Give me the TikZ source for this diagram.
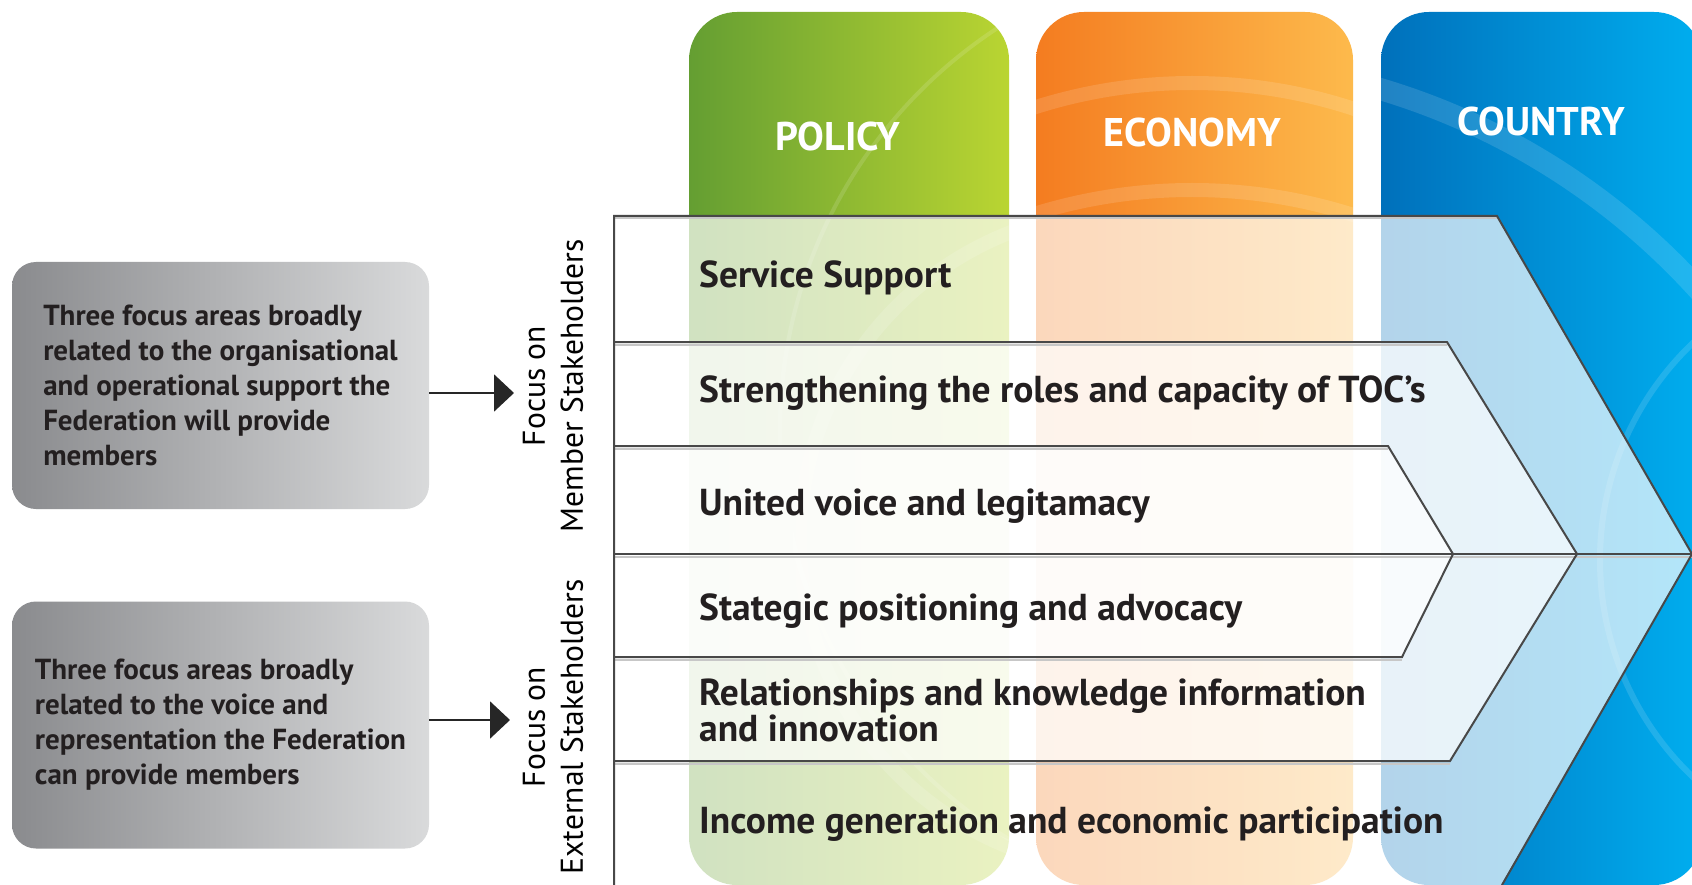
\documentclass[tikz,border=0pt]{standalone}
\usepackage{fontspec}
\setmainfont{PT Sans}
\usetikzlibrary{arrows.meta}

\definecolor{policyL}{RGB}{100,158,50}
\definecolor{policyR}{RGB}{186,213,50}
\definecolor{economyL}{RGB}{244,124,32}
\definecolor{economyR}{RGB}{253,186,76}
\definecolor{countryL}{RGB}{0,112,187}
\definecolor{countryR}{RGB}{0,174,239}
\definecolor{boxL}{RGB}{138,139,142}
\definecolor{boxR}{RGB}{217,218,219}
\definecolor{ink}{RGB}{35,31,32}
\definecolor{rulegray}{RGB}{72,72,72}

\begin{document}
\begin{tikzpicture}[
    x=1pt, y=-1pt,
    colbox/.style={rounded corners=48pt},
    glow/.style={draw=white, draw opacity=0.13, line width=14pt},
    coltitle/.style={text=white, inner sep=0pt, font=\bfseries\fontsize{40}{48}\selectfont},
    chevron/.style={fill=white, fill opacity=0.7},
    rule/.style={draw=rulegray, line width=2pt, line join=miter},
    ruleshadow/.style={draw=black!22, line width=2pt, yshift=-2.5pt},
    rowtext/.style={anchor=base west, inner sep=0pt, text=ink, align=left, font=\bfseries\fontsize{37.5}{34}\selectfont},
    infobox/.style={rectangle, rounded corners=24pt, left color=boxL, right color=boxR, minimum width=417pt, minimum height=247pt, align=left, text=ink, font=\bfseries\fontsize{29}{35}\selectfont},
    focus/.style={rotate=90, align=center, text=black, font=\fontsize{31.5}{38}\selectfont},
    pointer/.style={draw=black!85, line width=2pt, -{Triangle[length=20pt, width=37pt]}}
]
    \clip (0,0) rectangle (1692,885);
    \fill[white] (0,0) rectangle (1692,885);

    \path[colbox, left color=policyL, right color=policyR] (689,12) rectangle (1009,885);
    \path[colbox, left color=economyL, right color=economyR] (1036,12) rectangle (1353,885);
    \path[colbox, left color=countryL, right color=countryR] (1381,12) rectangle (1702,885);

    \begin{scope}
        \clip[colbox] (689,12) rectangle (1009,885);
        \draw[glow] (1130,540) circle (330);
        \draw[glow, line width=4pt] (1260,430) circle (480);
    \end{scope}
    \begin{scope}
        \clip[colbox] (1036,12) rectangle (1353,885);
        \draw[glow] (1192,600) circle (517);
        \draw[glow] (1192,720) circle (530);
    \end{scope}
    \begin{scope}
        \clip[colbox] (1381,12) rectangle (1702,885);
        \draw[glow, line width=22pt] (1180,760) circle (700);
        \draw[glow, line width=6pt] (1900,560) circle (300);
    \end{scope}

    \node[coltitle] (policy) at (838,137) {POLICY};
    \node[coltitle] (economy) at (1192,133) {ECONOMY};
    \node[coltitle] (country) at (1541,122) {COUNTRY};

    \path[chevron] (614,216) -- (1497,216) -- (1692,554) -- (1497,892) -- (614,892) -- cycle;
    \path[chevron] (614,342) -- (1447,342) -- (1577,554) -- (1450,761) -- (614,761) -- cycle;
    \path[chevron] (614,446) -- (1388,446) -- (1453,554) -- (1402,657) -- (614,657) -- cycle;

    \draw[ruleshadow] (614,216) -- (1497,216);
    \draw[ruleshadow] (614,342) -- (1447,342);
    \draw[ruleshadow] (614,446) -- (1388,446);
    \draw[ruleshadow] (614,554) -- (1692,554);
    \draw[ruleshadow] (614,657) -- (1402,657);
    \draw[ruleshadow] (614,761) -- (1450,761);

    \draw[rule] (614,885) -- (614,216) -- (1497,216) -- (1692,554) -- (1502,885);
    \draw[rule] (614,342) -- (1447,342) -- (1577,554) -- (1450,761) -- (614,761);
    \draw[rule] (614,446) -- (1388,446) -- (1453,554) -- (1402,657) -- (614,657);
    \draw[rule] (614,554) -- (1692,554);

    \node[rowtext] (service) at (699,288) {Service Support};
    \node[rowtext] (toc) at (699,402) {Strengthening the roles and capacity of TOC’s};
    \node[rowtext] (voice) at (699,515) {United voice and legitamacy};
    \node[rowtext] (advocacy) at (699,620) {Stategic positioning and advocacy};
    \node[rowtext] (knowledge) at (699,741) {Relationships and knowledge information\\and innovation};
    \node[rowtext] (income) at (699,833) {Income generation and economic participation};

    \node[infobox] (support) at (220.5,385.5) {Three focus areas broadly\\related to the organisational\\and operational support the\\Federation will provide\\members};
    \node[infobox] (represent) at (220.5,725) {Three focus areas broadly\\related to the voice and\\representation the Federation\\can provide members};

    \node[focus] (member) at (553,386) {Focus on\\Member Stakeholders};
    \node[focus] (external) at (553,727) {Focus on\\External Stakeholders};

    \coordinate (memberin) at (514,393);
    \coordinate (externalin) at (510,720);
    \path[pointer] (support.east |- memberin) -- (memberin);
    \path[pointer] (represent.east |- externalin) -- (externalin);
\end{tikzpicture}
\end{document}
